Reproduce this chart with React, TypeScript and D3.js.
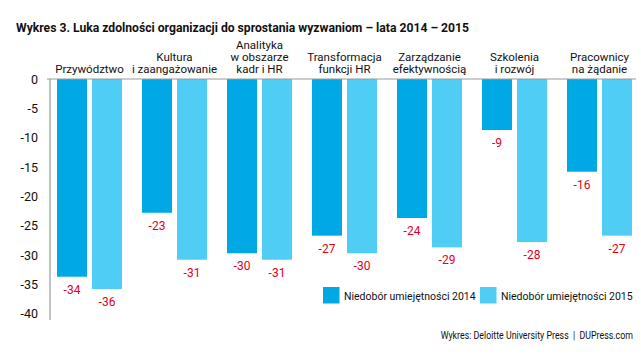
import React from "react";
import * as d3 from "d3";

const categories: string[][] = [
  ["Przywództwo"],
  ["Kultura", "i zaangażowanie"],
  ["Analityka", "w obszarze", "kadr i HR"],
  ["Transformacja", "funkcji HR"],
  ["Zarządzanie", "efektywnością"],
  ["Szkolenia", "i rozwój"],
  ["Pracownicy", "na żądanie"],
];
const values2014 = [-33.7, -22.8, -29.7, -26.7, -23.7, -8.7, -15.8];
const values2015 = [-35.8, -30.8, -30.8, -29.7, -28.7, -27.8, -26.7];
const seriesNames = ["Niedobór umiejętności 2014", "Niedobór umiejętności 2015"];
const yTicks = [0, -5, -10, -15, -20, -25, -30, -35, -40];
const title = "Wykres 3. Luka zdolności organizacji do sprostania wyzwaniom – lata 2014 – 2015";
const source = "Wykres: Deloitte University Press  |  DUPress.com";

const COLORS = ["#00a8e4", "#4fcdf4"];
const RED = "#e3001b";
const FONT = "Roboto, 'Liberation Sans', sans-serif";

export default function App() {
  const W = 641, H = 355;
  const y = d3.scaleLinear().domain([0, -40]).range([79, 313.7]);
  const idx = categories.map((_, i) => String(i));
  const x0 = d3.scaleBand().domain(idx).range([47, 642]).paddingInner(20 / 85).paddingOuter(10 / 85);
  const x1 = d3.scaleBand().domain(["0", "1"]).range([0, x0.bandwidth()]).paddingInner(5 / 35);
  const series = [values2014, values2015];
  const axisX = 50;

  return (
    <svg width={W} height={H} style={{ position: "absolute", left: 0, top: 0, background: "#fff" }} fontFamily={FONT}>
      <text x={16} y={32} fontSize={13} fontWeight="bold" fill="#111" textLength={453} lengthAdjust="spacingAndGlyphs">{title}</text>
      {categories.map((lines, i) => {
        const cx = (x0(String(i)) as number) + x0.bandwidth() / 2;
        const n = lines.length;
        return (
          <text key={"c" + i} textAnchor="middle" fontSize={11.5} fill="#111">
            {lines.map((l, j) => (
              <tspan key={j} x={cx} y={72.5 - (n - 1 - j) * 12}>{l}</tspan>
            ))}
          </text>
        );
      })}
      {yTicks.map((t) => (
        <text key={"t" + t} x={38} y={y(t) + 4.5} textAnchor="end" fontSize={12.5} fill="#111">{String(t)}</text>
      ))}
      {series.map((vals, s) =>
        vals.map((v, i) => {
          const bx = (x0(String(i)) as number) + (x1(String(s)) as number);
          return (
            <g key={`b${s}-${i}`}>
              <rect x={bx} y={y(0)} width={x1.bandwidth()} height={y(v) - y(0)} fill={COLORS[s]} />
              <text x={bx + x1.bandwidth() / 2} y={y(v) + 17} textAnchor="middle" fontSize={12} fill={RED}>{String(Math.round(v))}</text>
            </g>
          );
        })
      )}
      <line x1={47} x2={636} y1={y(0)} y2={y(0)} stroke="#9a9a9a" strokeWidth={1.2} />
      <line x1={axisX} x2={axisX} y1={y(0)} y2={320} stroke="#9a9a9a" strokeWidth={1.2} />
      {seriesNames.map((name, s) => {
        const lx = s === 0 ? 323 : 480;
        return (
          <g key={"l" + s}>
            <rect x={lx} y={287} width={16.5} height={16.5} fill={COLORS[s]} />
            <text x={lx + 21} y={300} fontSize={10.5} fill="#111">{name}</text>
          </g>
        );
      })}
      <g transform="translate(633,339) scale(0.84,1)">
        <text x={0} y={0} textAnchor="end" fontSize={10.5} fill="#111" style={{ whiteSpace: "pre" }}>{source}</text>
      </g>
    </svg>
  );
}
